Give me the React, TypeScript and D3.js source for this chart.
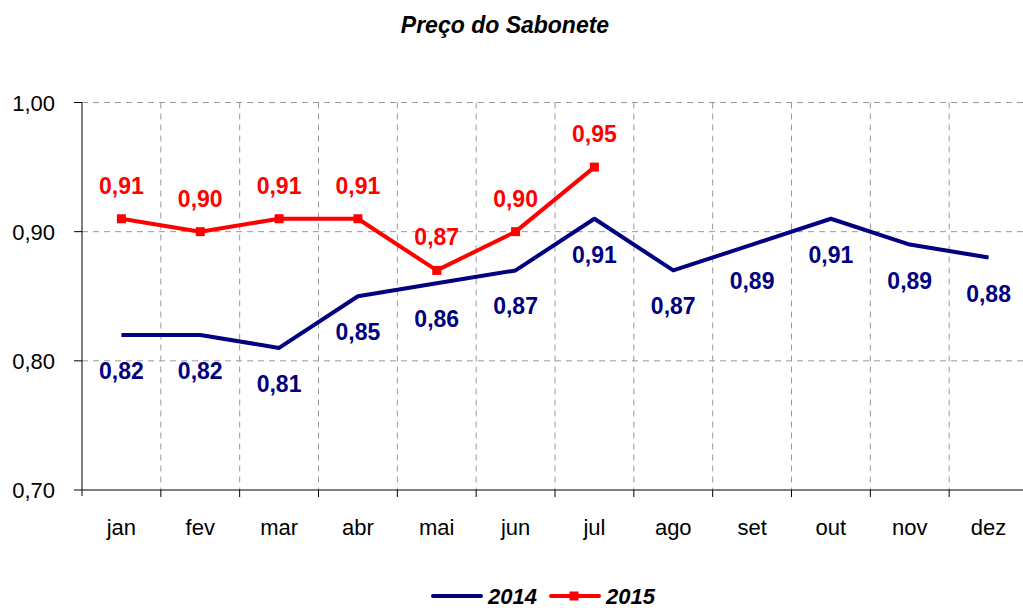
import React, { useRef, useEffect } from 'react';
import * as d3 from 'd3';

const months = ['jan', 'fev', 'mar', 'abr', 'mai', 'jun', 'jul', 'ago', 'set', 'out', 'nov', 'dez'];
const values2014 = [0.82, 0.82, 0.81, 0.85, 0.86, 0.87, 0.91, 0.87, 0.89, 0.91, 0.89, 0.88];
const values2015 = [0.91, 0.90, 0.91, 0.91, 0.87, 0.90, 0.95];
const yTicks = [0.7, 0.8, 0.9, 1.0];

const fmt = (v: number) => v.toFixed(2).replace('.', ',');

const App = () => {
  const ref = useRef<SVGSVGElement>(null);

  useEffect(() => {
    const svg = d3.select(ref.current);
    svg.selectAll('*').remove();

    const left = 82, right = 1028, top = 102.5, bottom = 490;
    const font = 'Arial, "Liberation Sans", sans-serif';

    const x = d3.scaleBand().domain(months).range([left, right]);
    const y = d3.scaleLinear().domain([0.7, 1.0]).range([bottom, top]);
    const cx = (m: string) => (x(m) as number) + x.bandwidth() / 2;

    // title
    svg.append('text')
      .attr('x', 505).attr('y', 33)
      .attr('text-anchor', 'middle')
      .style('font-family', font).style('font-size', '23px')
      .style('font-weight', 'bold').style('font-style', 'italic')
      .text('Preço do Sabonete');

    // horizontal grid
    svg.append('g').selectAll('line')
      .data(yTicks.filter(t => t > 0.7))
      .enter().append('line')
      .attr('x1', left).attr('x2', right)
      .attr('y1', d => y(d)).attr('y2', d => y(d))
      .attr('stroke', '#999').attr('stroke-dasharray', '6,5');

    // vertical grid
    svg.append('g').selectAll('line')
      .data(months.slice(1))
      .enter().append('line')
      .attr('x1', d => x(d) as number).attr('x2', d => x(d) as number)
      .attr('y1', top).attr('y2', bottom)
      .attr('stroke', '#999').attr('stroke-dasharray', '6,5');

    // y axis
    svg.append('line')
      .attr('x1', left).attr('x2', left).attr('y1', top).attr('y2', bottom + 6)
      .attr('stroke', '#000');
    svg.append('g').selectAll('line')
      .data(yTicks).enter().append('line')
      .attr('x1', left - 8).attr('x2', left)
      .attr('y1', d => y(d)).attr('y2', d => y(d))
      .attr('stroke', '#000');
    svg.append('g').selectAll('text')
      .data(yTicks).enter().append('text')
      .attr('x', 55).attr('y', d => y(d) + 8)
      .attr('text-anchor', 'end')
      .style('font-family', font).style('font-size', '22px')
      .text(d => fmt(d));

    // x axis
    svg.append('line')
      .attr('x1', left).attr('x2', right).attr('y1', bottom).attr('y2', bottom)
      .attr('stroke', '#000');
    svg.append('g').selectAll('line')
      .data(months.slice(1)).enter().append('line')
      .attr('x1', d => x(d) as number).attr('x2', d => x(d) as number)
      .attr('y1', bottom).attr('y2', bottom + 7)
      .attr('stroke', '#000');
    svg.append('g').selectAll('text')
      .data(months).enter().append('text')
      .attr('x', d => cx(d)).attr('y', 535)
      .attr('text-anchor', 'middle')
      .style('font-family', font).style('font-size', '22px')
      .text(d => d);

    const line = d3.line<number>()
      .x((_, i) => cx(months[i]))
      .y(d => y(d));

    // 2014
    svg.append('path')
      .datum(values2014)
      .attr('d', line)
      .attr('fill', 'none').attr('stroke', '#000080').attr('stroke-width', 4)
      .attr('stroke-linejoin', 'round');
    svg.append('g').selectAll('text')
      .data(values2014).enter().append('text')
      .attr('x', (_, i) => cx(months[i])).attr('y', d => y(d) + 44)
      .attr('text-anchor', 'middle')
      .style('font-family', font).style('font-size', '23px').style('font-weight', 'bold')
      .attr('fill', '#000080')
      .text(d => fmt(d));

    // 2015
    svg.append('path')
      .datum(values2015)
      .attr('d', line)
      .attr('fill', 'none').attr('stroke', '#ff0000').attr('stroke-width', 4)
      .attr('stroke-linejoin', 'round');
    svg.append('g').selectAll('rect')
      .data(values2015).enter().append('rect')
      .attr('x', (_, i) => cx(months[i]) - 4.5).attr('y', d => y(d) - 4.5)
      .attr('width', 9).attr('height', 9)
      .attr('fill', '#ff0000');
    svg.append('g').selectAll('text')
      .data(values2015).enter().append('text')
      .attr('x', (_, i) => cx(months[i])).attr('y', d => y(d) - 25)
      .attr('text-anchor', 'middle')
      .style('font-family', font).style('font-size', '23px').style('font-weight', 'bold')
      .attr('fill', '#ff0000')
      .text(d => fmt(d));

    // legend
    const lg = svg.append('g');
    lg.append('line').attr('x1', 433).attr('x2', 481).attr('y1', 596).attr('y2', 596)
      .attr('stroke', '#000080').attr('stroke-width', 4).attr('stroke-linecap', 'round');
    lg.append('text').attr('x', 488).attr('y', 604)
      .style('font-family', font).style('font-size', '22px')
      .style('font-weight', 'bold').style('font-style', 'italic')
      .text('2014');
    lg.append('line').attr('x1', 551).attr('x2', 599).attr('y1', 596).attr('y2', 596)
      .attr('stroke', '#ff0000').attr('stroke-width', 4).attr('stroke-linecap', 'round');
    lg.append('rect').attr('x', 569.5).attr('y', 591.5).attr('width', 9).attr('height', 9)
      .attr('fill', '#ff0000');
    lg.append('text').attr('x', 606).attr('y', 604)
      .style('font-family', font).style('font-size', '22px')
      .style('font-weight', 'bold').style('font-style', 'italic')
      .text('2015');
  }, []);

  return (
    <svg ref={ref} width={1023} height={608}
      style={{ position: 'absolute', left: 0, top: 0, background: '#fff' }} />
  );
};

export default App;
